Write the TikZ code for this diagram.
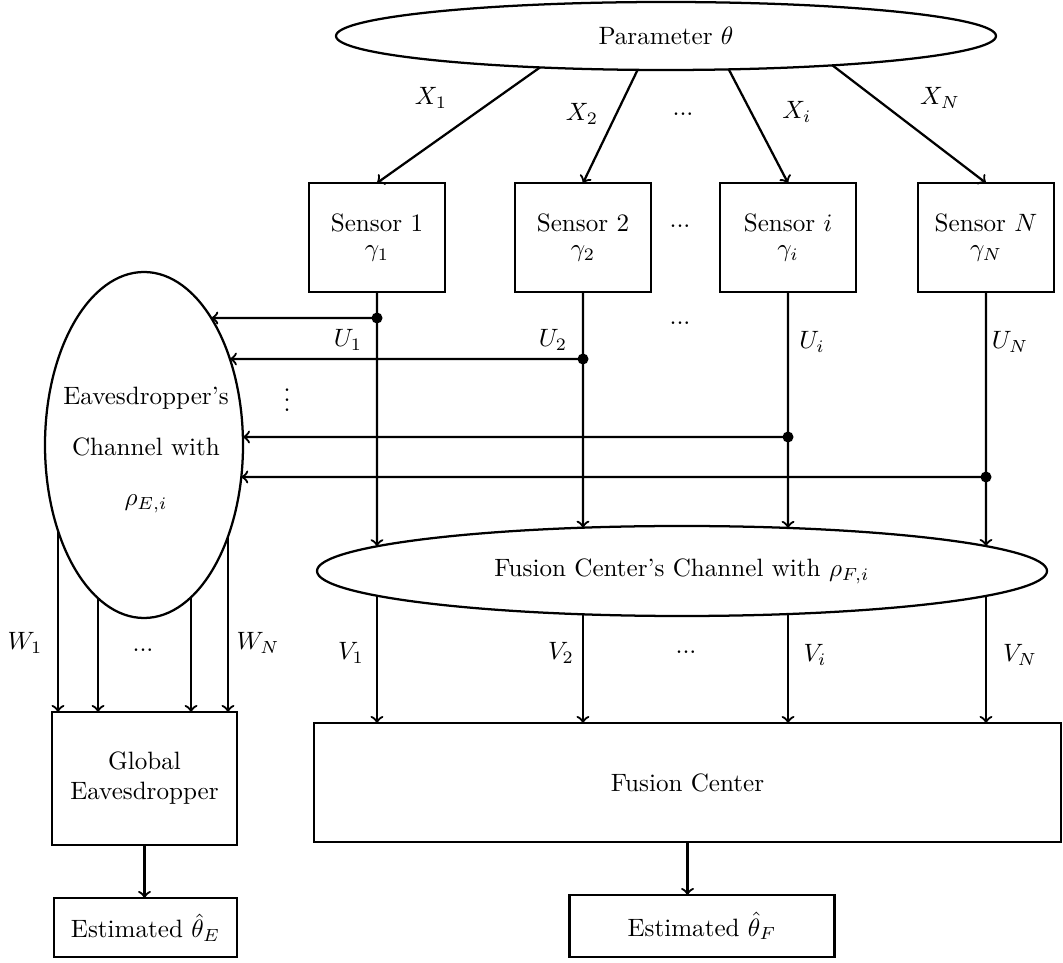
\documentclass[tikz,border=0pt]{standalone}
\usetikzlibrary{shapes.geometric,intersections}
\newlength\pu
\setlength\pu{0.014cm}
\begin{document}
\begin{tikzpicture}[x=0.014cm, y=-0.014cm, line width=0.9pt, >=to,
  box/.style={draw, rectangle, inner sep=0pt, outer sep=0pt, align=center},
  oval/.style={draw, ellipse, inner sep=0pt, outer sep=0pt, align=center},
  lbl/.style={inner sep=0pt}]
\useasboundingbox (0,0) rectangle (1063,963);

% source
\node[oval, minimum width=660\pu, minimum height=68\pu] (par) at (666,36) {Parameter $\theta$};

% sensors
\node[box, minimum width=136\pu, minimum height=109\pu] (s1) at (377,237.5) {Sensor 1\\[-2pt]$\gamma_1$};
\node[box, minimum width=136\pu, minimum height=109\pu] (s2) at (583,237.5) {Sensor 2\\[-2pt]$\gamma_2$};
\node[box, minimum width=136\pu, minimum height=109\pu] (s3) at (788,237.5) {Sensor $i$\\[-2pt]$\gamma_i$};
\node[box, minimum width=136\pu, minimum height=109\pu] (s4) at (986,237.5) {Sensor $N$\\[-2pt]$\gamma_N$};

% observations
\draw[->] (par.194) -- (s1.north);
\draw[->] (par.230) -- (s2.north);
\draw[->] (par.332) -- (s3.north);
\draw[->] (par.350) -- (s4.north);
\node[lbl] (lx1) at (431,98) {$X_1$};
\node[lbl] (lx2) at (582,114) {$X_2$};
\node[lbl] (lxd) at (683,114) {...};
\node[lbl] (lxi) at (797,112) {$X_i$};
\node[lbl] (lxn) at (940,98) {$X_N$};
\node[lbl] (lsd) at (680,226) {...};

% channels
\node[oval, minimum width=730\pu, minimum height=90\pu] (fus) at (682,571) {Fusion Center's Channel with $\rho_{F,i}$};
\node[oval, minimum width=198\pu, minimum height=346\pu] (eav) at (144,445) {};
\node[lbl, align=center] (eavtxt) at (146,450) {Eavesdropper's\\[8pt]Channel with\\[8pt]$\rho_{E,i}$};
\path[name path=fusP] (fus.center) ellipse [x radius=365\pu, y radius=45\pu];
\path[name path=eavP] (eav.center) ellipse [x radius=99\pu, y radius=173\pu];

% receivers
\node[box, minimum width=747\pu, minimum height=119\pu] (fc) at (687.5,782.5) {Fusion Center};
\node[box, minimum width=185\pu, minimum height=133\pu] (glob) at (144.5,778.5) {Global\\Eavesdropper};
\node[box, minimum width=183\pu, minimum height=59\pu] (estE) at (145.5,927.5) {Estimated $\hat{\theta}_E$};
\node[box, minimum width=265\pu, minimum height=62\pu] (estF) at (702,926) {Estimated $\hat{\theta}_F$};

% sensor outputs through the fusion channel
\path[name path=va] (s1.south) -- ++(0,420);
\path[name path=vb] (s2.south) -- ++(0,420);
\path[name path=vc] (s3.south) -- ++(0,420);
\path[name path=vd] (s4.south) -- ++(0,420);
\path[name intersections={of=va and fusP, by={fa,ga}, sort by=va}];
\path[name intersections={of=vb and fusP, by={fb,gb}, sort by=vb}];
\path[name intersections={of=vc and fusP, by={fc1,gc}, sort by=vc}];
\path[name intersections={of=vd and fusP, by={fd,gd}, sort by=vd}];
\draw[->] (s1.south) -- (fa);
\draw[->] (s2.south) -- (fb);
\draw[->] (s3.south) -- (fc1);
\draw[->] (s4.south) -- (fd);
\draw[->] (ga) -- (ga |- fc.north);
\draw[->] (gb) -- (gb |- fc.north);
\draw[->] (gc) -- (gc |- fc.north);
\draw[->] (gd) -- (gd |- fc.north);

% taps towards the eavesdropper
\coordinate (d1) at (s1.south |- 0,318);
\coordinate (d2) at (s2.south |- 0,359);
\coordinate (d3) at (s3.south |- 0,437);
\coordinate (d4) at (s4.south |- 0,477);
\path[name path=ha] (d1) -- ++(-1000,0);
\path[name path=hb] (d2) -- ++(-1000,0);
\path[name path=hc] (d3) -- ++(-1000,0);
\path[name path=hd] (d4) -- ++(-1000,0);
\path[name intersections={of=ha and eavP, by={ea}, sort by=ha}];
\path[name intersections={of=hb and eavP, by={eb}, sort by=hb}];
\path[name intersections={of=hc and eavP, by={ec}, sort by=hc}];
\path[name intersections={of=hd and eavP, by={ed}, sort by=hd}];
\draw[->] (d1) -- (ea);
\draw[->] (d2) -- (eb);
\draw[->] (d3) -- (ec);
\draw[->] (d4) -- (ed);
\fill (d1) circle (2.2pt);
\fill (d2) circle (2.2pt);
\fill (d3) circle (2.2pt);
\fill (d4) circle (2.2pt);
\node[lbl] (lu1) at (348,340) {$U_1$};
\node[lbl] (lu2) at (553,340) {$U_2$};
\node[lbl] (lud) at (680,323) {...};
\node[lbl] (lui) at (812,342) {$U_i$};
\node[lbl] (lun) at (1010,342) {$U_N$};
\node[lbl] (lvd) at (287,393) {$\vdots$};

% eavesdropper outputs
\path[name path=wa] (58,445) -- (58,712);
\path[name path=wb] (98,445) -- (98,712);
\path[name path=wc] (191,445) -- (191,712);
\path[name path=wd] (228,445) -- (228,712);
\path[name intersections={of=wa and eavP, by={ta}}];
\path[name intersections={of=wb and eavP, by={tb}}];
\path[name intersections={of=wc and eavP, by={tc}}];
\path[name intersections={of=wd and eavP, by={td}}];
\draw[->] (ta) -- (ta |- glob.north);
\draw[->] (tb) -- (tb |- glob.north);
\draw[->] (tc) -- (tc |- glob.north);
\draw[->] (td) -- (td |- glob.north);
\node[lbl] (lw1) at (25,643) {$W_1$};
\node[lbl] (lwd) at (143,650) {...};
\node[lbl] (lwn) at (258,643) {$W_N$};

\node[lbl] (lv1) at (351,653) {$V_1$};
\node[lbl] (lv2) at (561,653) {$V_2$};
\node[lbl] (lvdd) at (686,652) {...};
\node[lbl] (lvi) at (815,655) {$V_i$};
\node[lbl] (lvn) at (1020,655) {$V_N$};

% estimates
\draw[->] (glob.south) -- (glob.south |- estE.north);
\draw[->] (fc.south) -- (fc.south |- estF.north);
\end{tikzpicture}
\end{document}
